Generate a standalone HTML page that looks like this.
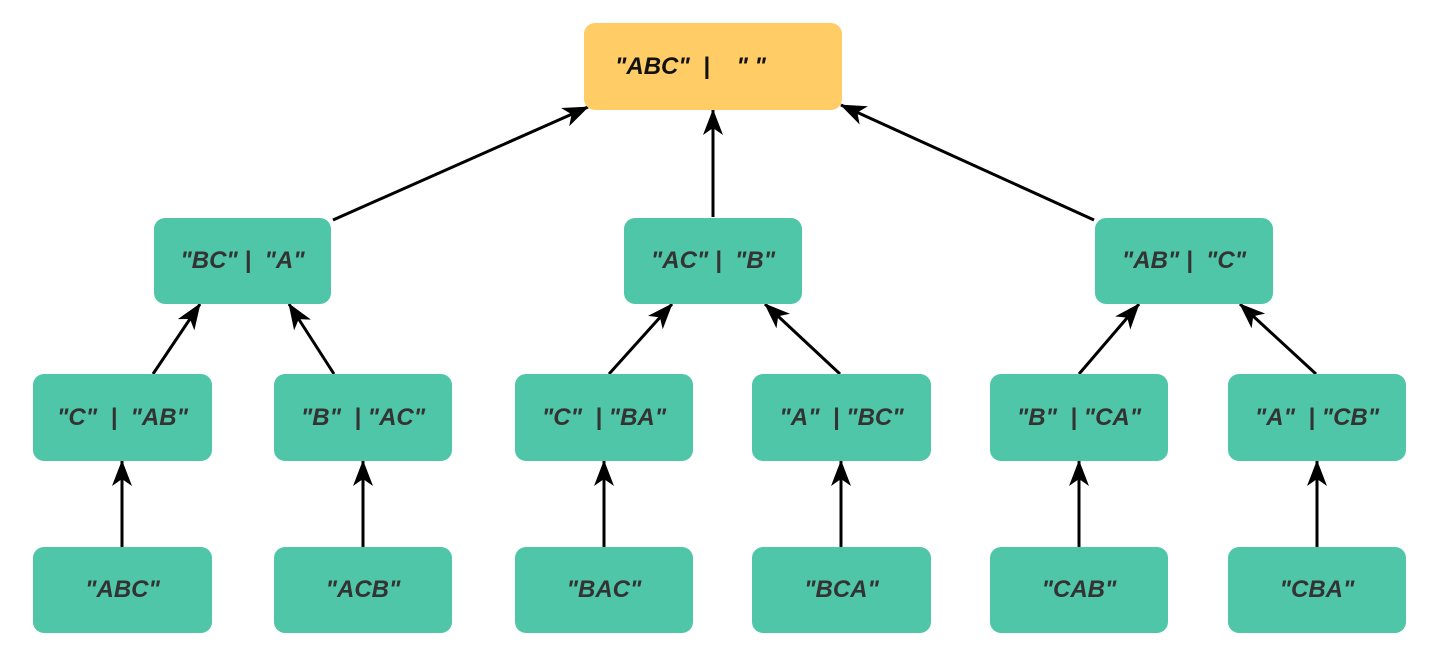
<!DOCTYPE html>
<html><head><meta charset="utf-8"><style>
body{margin:0;width:1442px;height:672px;background:#fff;position:relative;overflow:hidden;font-family:"Liberation Sans",Arial,sans-serif}
.n{position:absolute;border-radius:11px;background:#4fc6a8;display:flex;align-items:center;justify-content:center;font-weight:bold;font-style:italic;font-size:24px;color:#333;white-space:pre}
.top{background:#ffcc66;color:#111}
svg{position:absolute;left:0;top:0}
</style></head><body>
<svg width="1442" height="672">
<defs><marker id="ah" viewBox="0 0 26 20" refX="25" refY="10" markerWidth="26" markerHeight="20" markerUnits="userSpaceOnUse" orient="auto"><path d="M0,0 L26,10 L0,20 L7,10 Z" fill="#000"/></marker></defs>
<g stroke="#000" stroke-width="3" marker-end="url(#ah)">
<line x1="333" y1="220" x2="588" y2="107"/>
<line x1="713" y1="217" x2="713" y2="110"/>
<line x1="1094" y1="220" x2="841" y2="105"/>
<line x1="153" y1="374" x2="200" y2="304"/>
<line x1="334" y1="374" x2="289" y2="304"/>
<line x1="609" y1="374" x2="672" y2="304"/>
<line x1="840" y1="374" x2="765" y2="304"/>
<line x1="1079" y1="374" x2="1139" y2="304"/>
<line x1="1316" y1="374" x2="1240" y2="304"/>
<line x1="122" y1="547" x2="122" y2="461"/>
<line x1="363" y1="547" x2="363" y2="461"/>
<line x1="604" y1="547" x2="604" y2="461"/>
<line x1="841" y1="547" x2="841" y2="461"/>
<line x1="1079" y1="547" x2="1079" y2="461"/>
<line x1="1317" y1="547" x2="1317" y2="461"/>
</g></svg>
<div class="n top" style="left:584px;top:23px;width:258px;height:87px;justify-content:flex-start;padding-left:31px;box-sizing:border-box">"ABC"  |    " "</div>
<div class="n" style="left:154px;top:218px;width:177px;height:86px">"BC" |  "A"</div>
<div class="n" style="left:624px;top:218px;width:178px;height:86px">"AC" |  "B"</div>
<div class="n" style="left:1095px;top:218px;width:178px;height:86px">"AB" |  "C"</div>
<div class="n" style="left:33px;top:374px;width:179px;height:87px">"C"  |  "AB"</div>
<div class="n" style="left:274px;top:374px;width:178px;height:87px">"B"  | "AC"</div>
<div class="n" style="left:515px;top:374px;width:178px;height:87px">"C"  | "BA"</div>
<div class="n" style="left:752px;top:374px;width:179px;height:87px">"A"  | "BC"</div>
<div class="n" style="left:990px;top:374px;width:178px;height:87px">"B"  | "CA"</div>
<div class="n" style="left:1228px;top:374px;width:178px;height:87px">"A"  | "CB"</div>
<div class="n" style="left:33px;top:547px;width:179px;height:86px">"ABC"</div>
<div class="n" style="left:274px;top:547px;width:178px;height:86px">"ACB"</div>
<div class="n" style="left:515px;top:547px;width:178px;height:86px">"BAC"</div>
<div class="n" style="left:752px;top:547px;width:179px;height:86px">"BCA"</div>
<div class="n" style="left:990px;top:547px;width:178px;height:86px">"CAB"</div>
<div class="n" style="left:1228px;top:547px;width:178px;height:86px">"CBA"</div>
</body></html>
